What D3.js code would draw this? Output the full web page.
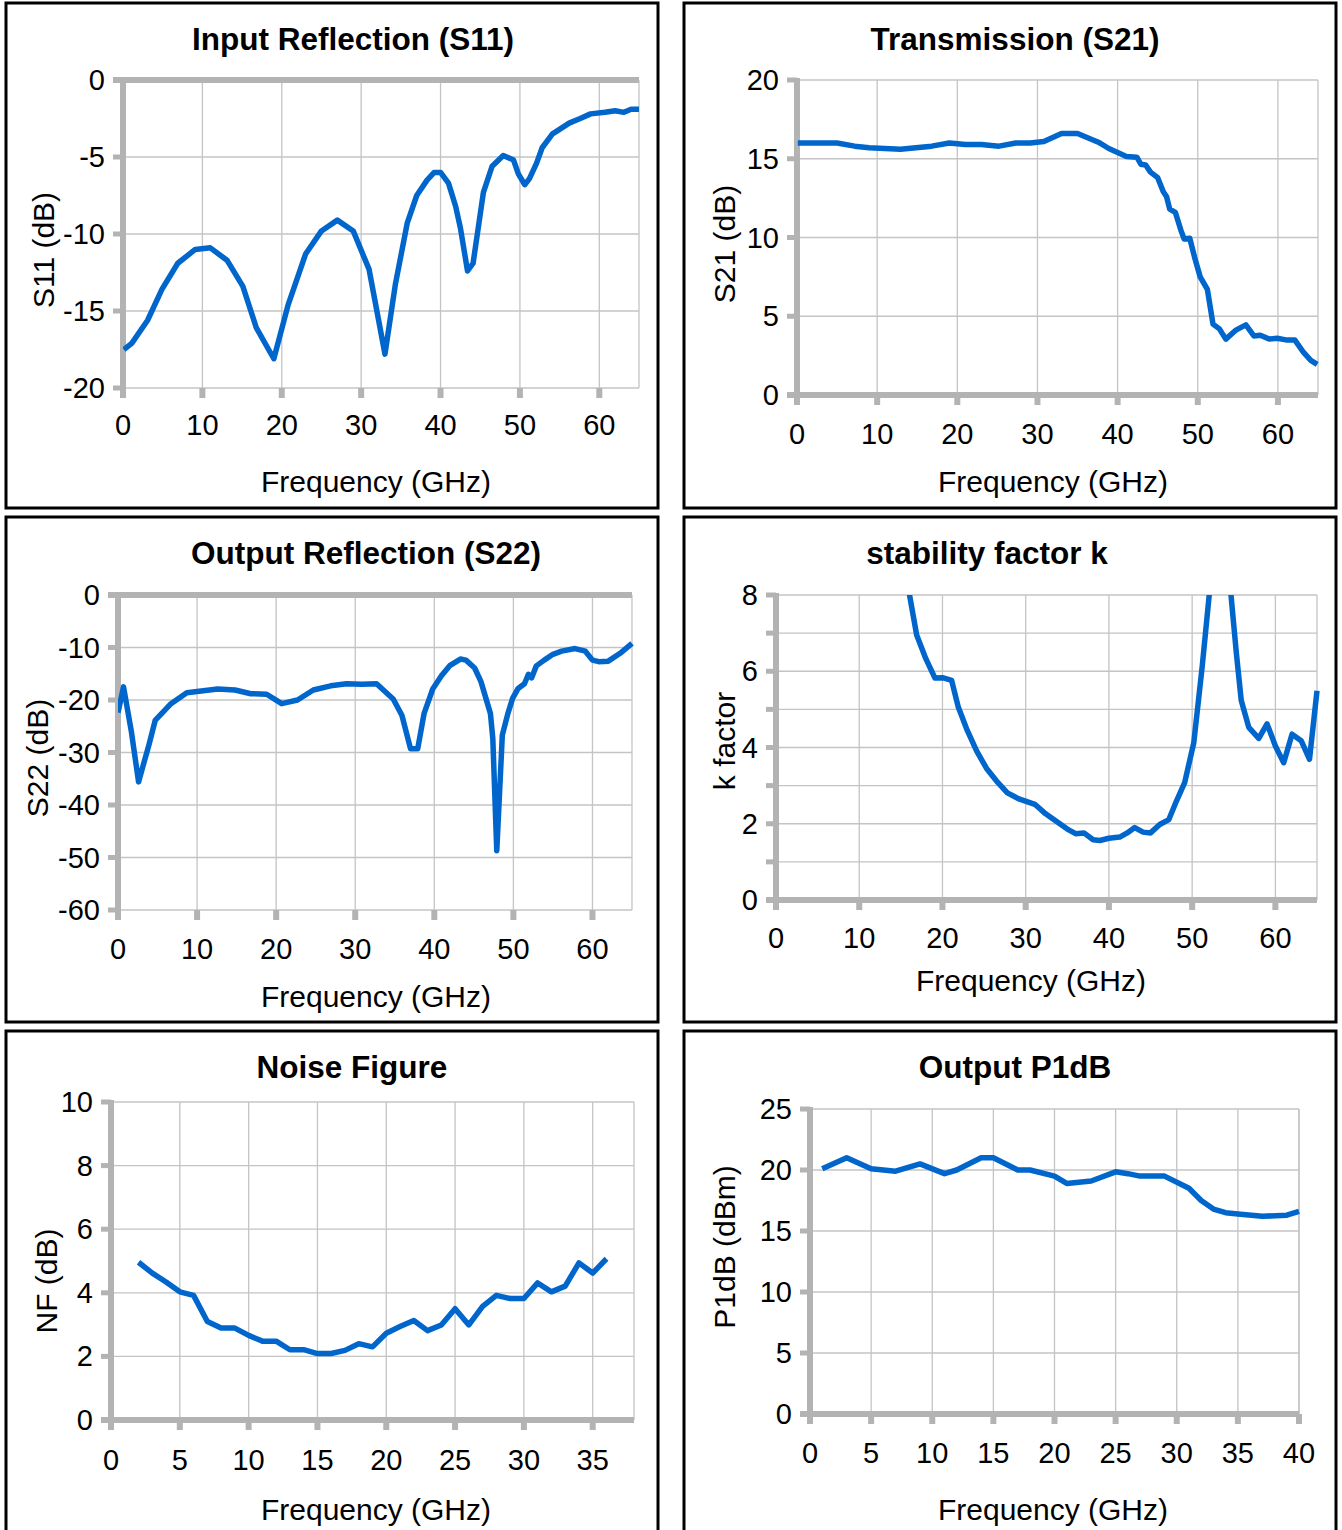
<!DOCTYPE html>
<html>
<head>
<meta charset="utf-8">
<script src="https://d3js.org/d3.v7.min.js"></script>
<style>
body { margin: 0; background: #fff; }
text { font-family: "Liberation Sans", Arial, sans-serif; fill: #000; }
.title { font-weight: bold; font-size: 31.5px; }
.ticklabel { font-size: 29px; }
.axistitle { font-size: 30px; }
</style>
</head>
<body>
<script>
// ---- data ----
var s11Freq = [0.1,1.1,3.1,4.9,6.9,9.1,11.0,13.1,15.1,16.8,19.0,20.8,23.0,25.0,27.0,29.0,31.0,33.0,34.3,35.8,37.0,38.3,39.2,40.0,41.0,41.9,42.5,43.4,44.1,45.4,46.5,47.9,49.2,49.8,50.6,51.2,52.1,52.8,54.1,54.7,56.2,57.6,58.9,60.7,62.0,63.1,64.0,65.0];
var s11Db = [-17.5,-17.1,-15.6,-13.6,-11.9,-11.0,-10.9,-11.7,-13.4,-16.1,-18.1,-14.6,-11.3,-9.8,-9.1,-9.8,-12.3,-17.8,-13.3,-9.3,-7.5,-6.5,-6.0,-6.0,-6.7,-8.2,-9.6,-12.4,-11.9,-7.3,-5.6,-4.9,-5.2,-6.1,-6.8,-6.4,-5.4,-4.4,-3.5,-3.3,-2.8,-2.5,-2.2,-2.1,-2.0,-2.1,-1.9,-1.9];

var s21Freq = [0.1,2.4,5.0,7.2,9.0,12.9,16.8,19.0,21.0,23.0,25.2,27.3,29.1,30.8,33.0,35.0,37.6,38.9,41.1,42.4,42.9,43.5,44.1,45.0,45.7,46.1,46.5,47.2,47.9,48.3,49.0,49.6,50.3,51.2,51.9,52.7,53.5,54.7,56.0,57.0,57.8,58.9,59.9,61.0,62.1,63.2,64.1,64.9];
var s21Db = [16.0,16.0,16.0,15.8,15.7,15.6,15.8,16.0,15.9,15.9,15.8,16.0,16.0,16.1,16.6,16.6,16.05,15.65,15.15,15.1,14.65,14.6,14.15,13.8,12.9,12.6,11.8,11.6,10.45,9.9,9.95,8.75,7.5,6.7,4.5,4.2,3.55,4.1,4.45,3.75,3.8,3.55,3.6,3.5,3.5,2.7,2.2,1.95];

var s22Freq = [0,0.7,1.7,2.6,3.9,4.7,6.7,8.7,12.6,14.8,16.8,18.8,20.7,22.7,24.7,26.9,28.9,30.8,32.7,34.8,35.9,37.0,37.9,38.7,39.8,40.9,42.0,43.3,44.0,45.1,45.9,47.1,47.4,47.9,48.6,49.3,49.9,50.6,51.4,51.9,52.3,52.9,53.9,55.0,56.1,57.8,59.1,60.0,60.8,62.0,63.5,65.0];
var s22Db = [-22.4,-17.5,-26.1,-35.6,-28.6,-23.9,-20.7,-18.6,-17.9,-18.1,-18.8,-18.9,-20.7,-20.0,-18.1,-17.3,-16.9,-17.0,-16.9,-19.8,-22.9,-29.3,-29.3,-22.6,-17.9,-15.4,-13.4,-12.2,-12.4,-13.9,-16.5,-22.6,-27.4,-48.7,-26.7,-22.6,-19.7,-17.8,-16.9,-15.1,-15.8,-13.5,-12.4,-11.3,-10.7,-10.2,-10.7,-12.4,-12.7,-12.6,-11.1,-9.2];

var kFreq = [15.8,16.9,18.0,19.1,20.0,21.1,21.9,22.9,24.1,25.3,26.5,27.8,29.1,31.1,32.4,33.5,35.0,36.0,37.0,38.1,38.9,40.0,41.3,42.2,43.1,44.1,45.0,46.1,47.2,48.1,49.1,50.2,51.2,53.4,55.3,55.9,56.8,58.0,59.0,60.0,61.0,62.0,63.1,64.1,65.0];
var kVal = [8.3,6.95,6.33,5.82,5.83,5.76,5.06,4.49,3.91,3.45,3.12,2.81,2.66,2.51,2.26,2.09,1.86,1.74,1.76,1.58,1.56,1.62,1.65,1.76,1.90,1.78,1.76,1.98,2.11,2.59,3.08,4.13,6.11,11.0,6.5,5.23,4.53,4.24,4.62,4.04,3.60,4.35,4.18,3.69,5.49];

var nfFreq = [2,3,4,5,6,7,8,9,10,11,12,13,14,15,16,17,18,19,20,21,22,23,24,25,26,27,28,29,30,31,32,33,34,35,36];
var nfDb = [4.96,4.62,4.34,4.03,3.92,3.10,2.89,2.89,2.66,2.48,2.48,2.21,2.21,2.09,2.09,2.19,2.40,2.30,2.73,2.94,3.13,2.81,2.99,3.50,2.99,3.57,3.92,3.82,3.82,4.31,4.03,4.21,4.94,4.62,5.07];

var p1Freq = [1,3,5,7,9,11,12,14,15,17,18,20,21,23,25,26,27,29,31,32,33,34,35,37,39,40];
var p1Dbm = [20.1,21.0,20.1,19.9,20.5,19.7,20.0,21.0,21.0,20.0,20.0,19.5,18.9,19.1,19.85,19.7,19.5,19.5,18.5,17.5,16.8,16.5,16.4,16.2,16.3,16.6];

// tick values
var ticks65 = [0,10,20,30,40,50,60];
var ticks35 = [0,5,10,15,20,25,30,35];
var ticks40 = [0,5,10,15,20,25,30,35,40];

var gray = "#b3b3b3", grid = "#c4c4c4", blue = "#0066cc";

var svg = d3.select("body").append("svg")
    .attr("width", 1342)
    .attr("height", 1530);

function drawPanel(p) {
  var g = svg.append("g");

  g.append("rect")
    .attr("x", p.box[0]).attr("y", p.box[1])
    .attr("width", p.box[2]).attr("height", p.box[3])
    .attr("fill", "none").attr("stroke", "#000").attr("stroke-width", 3);

  var x = d3.scaleLinear().domain(p.xDomain).range([p.left, p.right]);
  var y = d3.scaleLinear().domain(p.yDomain).range([p.bottom, p.top]);

  // gridlines + plot frame
  g.selectAll(".vg").data(p.xTicks.concat([p.xDomain[1]])).enter().append("line")
    .attr("x1", function(d) { return x(d); }).attr("x2", function(d) { return x(d); })
    .attr("y1", p.top).attr("y2", p.bottom)
    .attr("stroke", grid).attr("stroke-width", 1.3);
  g.selectAll(".hg").data(p.yTicks).enter().append("line")
    .attr("x1", p.left).attr("x2", p.right)
    .attr("y1", function(d) { return y(d); }).attr("y2", function(d) { return y(d); })
    .attr("stroke", grid).attr("stroke-width", 1.3);

  // y tick stubs
  g.selectAll(".yt").data(p.yTicks).enter().append("line")
    .attr("x1", p.left - 10).attr("x2", p.left)
    .attr("y1", function(d) { return y(d); }).attr("y2", function(d) { return y(d); })
    .attr("stroke", gray).attr("stroke-width", 5);
  // x tick stubs (below plot)
  g.selectAll(".xt").data(p.xTicks).enter().append("line")
    .attr("x1", function(d) { return x(d); }).attr("x2", function(d) { return x(d); })
    .attr("y1", p.bottom).attr("y2", p.bottom + 10)
    .attr("stroke", gray).attr("stroke-width", 6);

  // axis lines
  g.append("line")
    .attr("x1", p.left).attr("x2", p.left)
    .attr("y1", p.top - 2).attr("y2", p.bottom + 10)
    .attr("stroke", gray).attr("stroke-width", 6);
  g.append("line")
    .attr("x1", p.left - 10).attr("x2", p.right)
    .attr("y1", y(0)).attr("y2", y(0))
    .attr("stroke", gray).attr("stroke-width", 6);

  // tick labels
  g.selectAll(".yl").data(p.yLabels).enter().append("text")
    .attr("class", "ticklabel")
    .attr("x", p.left - 18)
    .attr("y", function(d) { return y(d) + 10; })
    .attr("text-anchor", "end")
    .text(function(d) { return d; });
  g.selectAll(".xl").data(p.xTicks).enter().append("text")
    .attr("class", "ticklabel")
    .attr("x", function(d) { return x(d); })
    .attr("y", p.bottom + p.xLabelDy)
    .attr("text-anchor", "middle")
    .text(function(d) { return d; });

  // titles
  g.append("text").attr("class", "title")
    .attr("x", p.titlePos[0]).attr("y", p.titlePos[1])
    .attr("text-anchor", "middle").text(p.title);
  g.append("text").attr("class", "axistitle")
    .attr("x", p.xTitleX).attr("y", p.xTitleY)
    .attr("text-anchor", "middle").text("Frequency (GHz)");
  g.append("text").attr("class", "axistitle")
    .attr("transform", "translate(" + p.yTitlePos[0] + "," + p.yTitlePos[1] + ") rotate(-90)")
    .attr("text-anchor", "middle").text(p.yTitle);

  // data line
  var clipId = "clip" + p.id;
  svg.append("clipPath").attr("id", clipId).append("rect")
    .attr("x", p.left).attr("y", p.top)
    .attr("width", p.right - p.left + 4).attr("height", p.bottom - p.top);
  var line = d3.line()
    .x(function(d, i) { return x(p.xs[i]); })
    .y(function(d) { return y(d); });
  g.append("path")
    .attr("d", line(p.ys))
    .attr("clip-path", "url(#" + clipId + ")")
    .attr("fill", "none").attr("stroke", blue)
    .attr("stroke-width", 5.5).attr("stroke-linejoin", "round");
}

drawPanel({ id: 1, box: [6, 3, 652, 505], title: "Input Reflection (S11)", titlePos: [353, 50],
  left: 123, right: 639, top: 80, bottom: 388, xDomain: [0, 65], yDomain: [-20, 0],
  xTicks: ticks65, yTicks: [0,-5,-10,-15,-20], yLabels: [0,-5,-10,-15,-20],
  xLabelDy: 47, xTitleX: 376, xTitleY: 492, yTitle: "S11 (dB)", yTitlePos: [54, 250],
  xs: s11Freq, ys: s11Db });

drawPanel({ id: 2, box: [684, 3, 652, 505], title: "Transmission (S21)", titlePos: [1015, 50],
  left: 797, right: 1318, top: 80, bottom: 395, xDomain: [0, 65], yDomain: [0, 20],
  xTicks: ticks65, yTicks: [0,5,10,15,20], yLabels: [0,5,10,15,20],
  xLabelDy: 49, xTitleX: 1053, xTitleY: 492, yTitle: "S21 (dB)", yTitlePos: [735, 244],
  xs: s21Freq, ys: s21Db });

drawPanel({ id: 3, box: [6, 517, 652, 505], title: "Output Reflection (S22)", titlePos: [366, 564],
  left: 118, right: 632, top: 595, bottom: 910, xDomain: [0, 65], yDomain: [-60, 0],
  xTicks: ticks65, yTicks: [0,-10,-20,-30,-40,-50,-60], yLabels: [0,-10,-20,-30,-40,-50,-60],
  xLabelDy: 49, xTitleX: 376, xTitleY: 1007, yTitle: "S22 (dB)", yTitlePos: [48, 758],
  xs: s22Freq, ys: s22Db });

drawPanel({ id: 4, box: [684, 517, 652, 505], title: "stability factor k", titlePos: [987, 564],
  left: 776, right: 1317, top: 595, bottom: 900, xDomain: [0, 65], yDomain: [0, 8],
  xTicks: ticks65, yTicks: [0,1,2,3,4,5,6,7,8], yLabels: [0,2,4,6,8],
  xLabelDy: 48, xTitleX: 1031, xTitleY: 991, yTitle: "k factor", yTitlePos: [735, 741],
  xs: kFreq, ys: kVal });

drawPanel({ id: 5, box: [6, 1031, 652, 520], title: "Noise Figure", titlePos: [352, 1078],
  left: 111, right: 634, top: 1102, bottom: 1420, xDomain: [0, 38], yDomain: [0, 10],
  xTicks: ticks35, yTicks: [0,2,4,6,8,10], yLabels: [0,2,4,6,8,10],
  xLabelDy: 50, xTitleX: 376, xTitleY: 1520, yTitle: "NF (dB)", yTitlePos: [57, 1281],
  xs: nfFreq, ys: nfDb });

drawPanel({ id: 6, box: [684, 1031, 652, 520], title: "Output P1dB", titlePos: [1015, 1078],
  left: 810, right: 1299, top: 1109, bottom: 1414, xDomain: [0, 40], yDomain: [0, 25],
  xTicks: ticks40, yTicks: [0,5,10,15,20,25], yLabels: [0,5,10,15,20,25],
  xLabelDy: 49, xTitleX: 1053, xTitleY: 1520, yTitle: "P1dB (dBm)", yTitlePos: [735, 1247],
  xs: p1Freq, ys: p1Dbm });
</script>
</body>
</html>
